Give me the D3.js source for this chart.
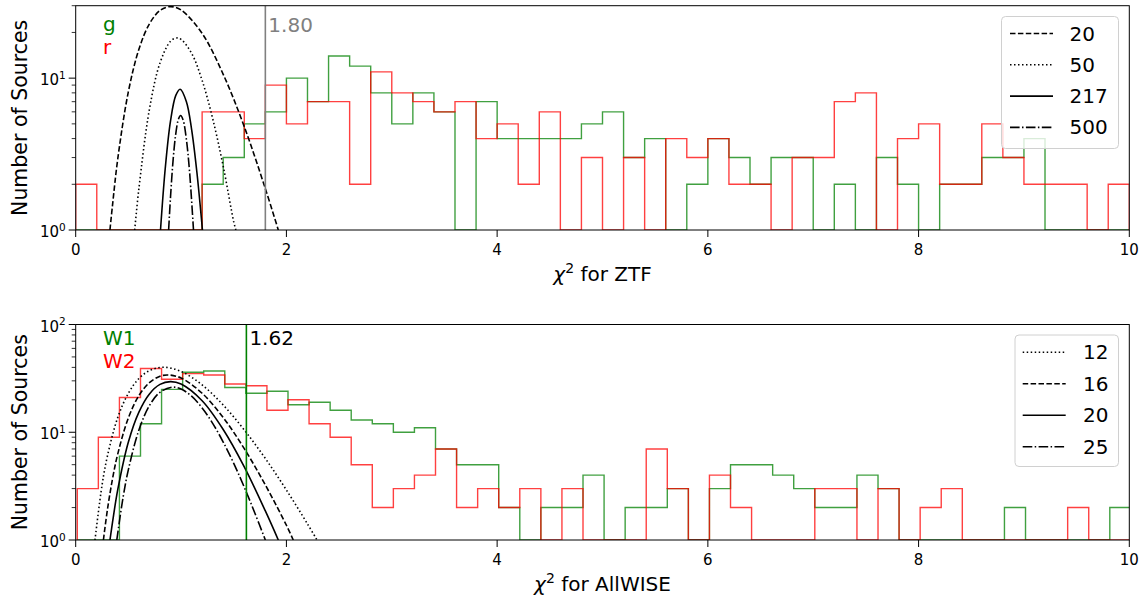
<!DOCTYPE html>
<html>
<head>
<meta charset="utf-8">
<script src="https://cdn.jsdelivr.net/npm/d3@7"></script>
<style>
  body { margin: 0; background: #fff; }
  svg { display: block; font-family: 'DejaVu Sans', sans-serif; }
</style>
</head>
<body>
<div id="chart"></div>
<script>
// ---- ZTF panel: histogram bins of 0.2 starting at 0 ----
const ztfBinStart = 0;
const ztfBinWidth = 0.2;
const ztfCountsG = [0, 0, 0, 0, 0, 0, 2, 3, 5, 6, 10, 7, 14, 12, 8, 5, 8, 6, 0, 7,
  4, 4, 4, 4, 5, 6, 3, 4, 0, 2, 4, 3, 2, 3, 3, 0, 2, 0, 3, 2,
  0, 2, 2, 3, 3, 4, 0, 0, 0, 0];
const ztfCountsR = [2, 0, 0, 0, 0, 0, 6, 6, 4, 9, 5, 7, 7, 2, 11, 8, 7, 6, 7, 4,
  5, 2, 6, 0, 3, 0, 3, 0, 4, 3, 4, 2, 2, 0, 3, 3, 7, 8, 0, 4,
  5, 2, 2, 5, 3, 2, 2, 2, 0, 2];
// reduced chi-square curves: [chi2, sources]
const ztfCurve20 = [[0.325, 1], [0.35, 1.47], [0.4, 2.97], [0.5, 8.15], [0.6, 15.5], [0.7, 22.8],
  [0.8, 27.9], [0.9, 29.6], [1.0, 28.1], [1.2, 19.7], [1.4, 10.6], [1.6, 4.79], [1.8, 1.87], [1.923, 1]];
const ztfCurve50 = [[0.56, 1], [0.6, 1.88], [0.7, 6.25], [0.8, 12.6], [0.9, 17.5], [0.96, 18.4],
  [1.0, 18.0], [1.1, 14.6], [1.2, 9.66], [1.3, 5.42], [1.4, 2.63], [1.5, 1.13], [1.52, 1]];
const ztfCurve217 = [[0.805, 1], [0.85, 2.55], [0.9, 5.23], [0.95, 7.7], [0.991, 8.46],
  [1.05, 7.03], [1.1, 4.6], [1.15, 2.41], [1.203, 1]];
const ztfCurve500 = [[0.882, 1], [0.9, 1.65], [0.925, 2.92], [0.95, 4.31], [0.975, 5.36], [0.996, 5.67],
  [1.02, 5.28], [1.05, 3.98], [1.08, 2.45], [1.118, 1]];
const ztfDofLabels = ['20', '50', '217', '500'];
const ztfBandLabels = ['g', 'r'];
const ztfCut = 1.80;

// ---- AllWISE panel: bins of 0.2 starting at 0.015 ----
const wiseBinStart = 0.015;
const wiseBinWidth = 0.2;
const wiseCountsW1 = [0, 0, 6, 12, 25, 36, 37, 26, 23, 24, 18, 19, 16, 13, 12, 10, 11, 7, 5, 5,
  2, 0, 2, 2, 4, 0, 2, 2, 3, 0, 3, 5, 5, 4, 3, 2, 2, 4, 3, 0,
  0, 0, 0, 0, 2, 0, 0, 0, 0, 2];
const wiseCountsW2 = [3, 9, 21, 39, 31, 35, 34, 28, 27, 16, 20, 12, 9, 5, 2, 3, 4, 7, 2, 3,
  2, 3, 0, 3, 0, 0, 0, 7, 3, 0, 4, 2, 0, 0, 0, 3, 3, 0, 3, 0,
  2, 3, 0, 0, 0, 0, 0, 2, 0, 0];
const wiseCurve12 = [[0.183, 1], [0.25, 3.23], [0.3, 5.95], [0.4, 13.8], [0.5, 23.0], [0.6, 31.5],
  [0.7, 37.3], [0.833, 40.1], [1.0, 36.7], [1.2, 27.5], [1.4, 17.9], [1.6, 10.5], [1.8, 5.71],
  [2.0, 2.91], [2.2, 1.41], [2.29, 1]];
const wiseCurve16 = [[0.263, 1], [0.3, 1.88], [0.35, 3.72], [0.4, 6.34], [0.5, 13.6], [0.6, 21.9],
  [0.7, 28.9], [0.8, 33.1], [0.875, 34], [1.0, 31.9], [1.2, 23.0], [1.4, 13.7], [1.6, 7.04],
  [1.8, 3.24], [2.0, 1.37], [2.065, 1]];
const wiseCurve20 = [[0.325, 1], [0.35, 1.47], [0.4, 2.96], [0.5, 8.12], [0.6, 15.4], [0.7, 22.7],
  [0.8, 27.8], [0.9, 29.5], [1.0, 28.0], [1.2, 19.6], [1.4, 10.6], [1.6, 4.77], [1.8, 1.86], [1.923, 1]];
const wiseCurve25 = [[0.39, 1], [0.45, 2.5], [0.5, 4.5], [0.6, 10.5], [0.7, 17.7], [0.8, 23.5],
  [0.92, 26.2], [1.0, 25.2], [1.1, 21.6], [1.2, 16.8], [1.3, 12.1], [1.4, 8.11], [1.5, 5.14],
  [1.6, 3.09], [1.7, 1.78], [1.8, 1]];
const wiseDofLabels = ['12', '16', '20', '25'];
const wiseBandLabels = ['W1', 'W2'];
const wiseCut = 1.62;

const xTicks = [0, 2, 4, 6, 8, 10];

const DASHED = '5.5,2.4';
const DOTTED = '1.5,2.5';
const DASHDOT = '9.6,2.4,1.5,2.4';

class ChiSquarePanel {
  constructor (svg, opts) {
    this.svg = svg;
    this.opts = opts;
    this.left = 75.7;
    this.right = 1129.3;
    this.top = opts.top;
    this.bottom = opts.bottom;
    this.g = null;
  }

  initScales () {
    this.xScale = d3.scaleLinear().domain([0, 10]).range([this.left, this.right]);
    this.yScale = d3.scaleLog().domain([1, this.opts.yMax]).range([this.bottom, this.top]);
  }

  // y for a count; empty bins sit on the floor of the axis
  yOf (n) {
    return n > 0 ? this.yScale(n) : this.bottom;
  }

  createGroup () {
    this.g = this.svg.append('g');
    this.g.append('clipPath')
      .attr('id', this.opts.id + '-clip')
      .append('rect')
      .attr('x', this.left)
      .attr('y', this.top)
      .attr('width', this.right - this.left)
      .attr('height', this.bottom - this.top);
    this.plot = this.g.append('g').attr('clip-path', 'url(#' + this.opts.id + '-clip)');
  }

  drawHistograms () {
    let line = d3.line()
      .x((d) => this.xScale(d[0]))
      .y((d) => this.yOf(d[1]));

    this.opts.histograms.forEach((h) => {
      let pts = [[this.opts.binStart, 0]];
      h.counts.forEach((c, i) => {
        let x0 = this.opts.binStart + i * this.opts.binWidth;
        pts.push([x0, c], [x0 + this.opts.binWidth, c]);
      });
      pts.push([this.opts.binStart + h.counts.length * this.opts.binWidth, 0]);

      this.plot.append('path')
        .attr('d', line(pts))
        .attr('fill', 'none')
        .attr('stroke', h.color)
        .attr('stroke-opacity', 0.75)
        .attr('stroke-width', 1.4);
    });
  }

  drawCurves () {
    let line = d3.line()
      .x((d) => this.xScale(d[0]))
      .y((d) => this.yScale(d[1]))
      .curve(d3.curveCatmullRom.alpha(0.5));

    this.opts.curves.forEach((c) => {
      this.plot.append('path')
        .attr('d', line(c.points))
        .attr('fill', 'none')
        .attr('stroke', '#000')
        .attr('stroke-width', 1.6)
        .attr('stroke-dasharray', c.dash);
    });
  }

  drawCut () {
    let cx = this.xScale(this.opts.cut);
    this.plot.append('line')
      .attr('x1', cx).attr('x2', cx)
      .attr('y1', this.top).attr('y2', this.bottom)
      .attr('stroke', this.opts.cutColor)
      .attr('stroke-width', 1.6);

    this.g.append('text')
      .attr('x', cx + 3)
      .attr('y', this.top + this.opts.cutTextDy)
      .attr('font-size', 20)
      .attr('fill', this.opts.cutTextColor)
      .text(this.opts.cut.toFixed(2));
  }

  drawBands () {
    let colors = ['#008000', '#ff0000'];
    this.opts.bands.forEach((b, i) => {
      this.g.append('text')
        .attr('x', 103)
        .attr('y', this.top + this.opts.bandDy + i * 23)
        .attr('font-size', 20)
        .attr('fill', colors[i])
        .text(b);
    });
  }

  drawAxes () {
    // frame
    this.g.append('rect')
      .attr('x', this.left)
      .attr('y', this.top)
      .attr('width', this.right - this.left)
      .attr('height', this.bottom - this.top)
      .attr('fill', 'none')
      .attr('stroke', '#000')
      .attr('stroke-width', 1);

    // x ticks
    let xt = this.g.append('g');
    xTicks.forEach((t) => {
      let x = this.xScale(t);
      xt.append('line')
        .attr('x1', x).attr('x2', x)
        .attr('y1', this.bottom).attr('y2', this.bottom + 7)
        .attr('stroke', '#000');
      xt.append('text')
        .attr('x', x)
        .attr('y', this.bottom + 24.5)
        .attr('text-anchor', 'middle')
        .attr('font-size', 15)
        .text(t);
    });

    // y ticks, log decades plus minor ones
    let yt = this.g.append('g');
    let maxExp = Math.floor(Math.log10(this.opts.yMax) + 1e-9);
    for (let e = 0; e <= maxExp; e++) {
      let y = this.yScale(Math.pow(10, e));
      yt.append('line')
        .attr('x1', this.left - 7).attr('x2', this.left)
        .attr('y1', y).attr('y2', y)
        .attr('stroke', '#000');
      let label = yt.append('text')
        .attr('x', this.left - 10)
        .attr('y', y + 7)
        .attr('text-anchor', 'end')
        .attr('font-size', 15);
      label.append('tspan').text('10');
      label.append('tspan')
        .attr('font-size', 10.5)
        .attr('dy', -6.5)
        .text(e);
      for (let m = 2; m <= 9; m++) {
        let v = m * Math.pow(10, e);
        if (v > this.opts.yMax) break;
        let ym = this.yScale(v);
        yt.append('line')
          .attr('x1', this.left - 4).attr('x2', this.left)
          .attr('y1', ym).attr('y2', ym)
          .attr('stroke', '#000')
          .attr('stroke-width', 0.8);
      }
    }

    // axis labels
    let xl = this.g.append('text')
      .attr('x', (this.left + this.right) / 2)
      .attr('y', this.bottom + 51)
      .attr('text-anchor', 'middle')
      .attr('font-size', 20);
    xl.append('tspan').attr('font-style', 'italic').text('χ');
    xl.append('tspan').attr('font-size', 14).attr('dy', -8).text('2');
    xl.append('tspan').attr('dy', 8).text(' for ' + this.opts.xName);

    this.g.append('text')
      .attr('transform', 'translate(27,' + ((this.top + this.bottom) / 2) + ') rotate(-90)')
      .attr('text-anchor', 'middle')
      .attr('font-size', 20.5)
      .text('Number of Sources');
  }

  drawLegend () {
    let L = this.opts.legend;
    let lg = this.g.append('g');
    lg.append('rect')
      .attr('x', L.x).attr('y', L.y)
      .attr('width', L.w).attr('height', L.h)
      .attr('rx', 4)
      .attr('fill', '#fff')
      .attr('fill-opacity', 0.8)
      .attr('stroke', '#d0d0d0');
    this.opts.curves.forEach((c, i) => {
      let y = L.y + L.firstDy + i * L.step;
      lg.append('line')
        .attr('x1', L.x + L.lineDx).attr('x2', L.x + L.lineDx + 43)
        .attr('y1', y).attr('y2', y)
        .attr('stroke', '#000')
        .attr('stroke-width', 1.6)
        .attr('stroke-dasharray', c.dash);
      lg.append('text')
        .attr('x', L.x + L.textDx)
        .attr('y', y + 7)
        .attr('font-size', 20)
        .text(c.label);
    });
  }

  render () {
    this.initScales();
    this.createGroup();
    this.drawHistograms();
    this.drawCurves();
    this.drawCut();
    this.drawBands();
    this.drawAxes();
    this.drawLegend();
  }
}

const svg = d3.select('#chart')
  .append('svg')
  .attr('width', 1147)
  .attr('height', 604);

new ChiSquarePanel(svg, {
  id: 'ztf',
  top: 5.7,
  bottom: 230,
  yMax: 30,
  xName: 'ZTF',
  binStart: ztfBinStart,
  binWidth: ztfBinWidth,
  histograms: [
    { counts: ztfCountsG, color: '#008000' },
    { counts: ztfCountsR, color: '#ff0000' }
  ],
  curves: [
    { points: ztfCurve20, dash: DASHED, label: ztfDofLabels[0] },
    { points: ztfCurve50, dash: DOTTED, label: ztfDofLabels[1] },
    { points: ztfCurve217, dash: null, label: ztfDofLabels[2] },
    { points: ztfCurve500, dash: DASHDOT, label: ztfDofLabels[3] }
  ],
  cut: ztfCut,
  cutColor: '#808080',
  cutTextColor: '#808080',
  cutTextDy: 26.5,
  bands: ztfBandLabels,
  bandDy: 25.5,
  legend: { x: 1001.5, y: 16.5, w: 117, h: 132, firstDy: 17, step: 31.3, lineDx: 8.5, textDx: 68 }
}).render();

new ChiSquarePanel(svg, {
  id: 'wise',
  top: 324.5,
  bottom: 540,
  yMax: 100,
  xName: 'AllWISE',
  binStart: wiseBinStart,
  binWidth: wiseBinWidth,
  histograms: [
    { counts: wiseCountsW1, color: '#008000' },
    { counts: wiseCountsW2, color: '#ff0000' }
  ],
  curves: [
    { points: wiseCurve12, dash: DOTTED, label: wiseDofLabels[0] },
    { points: wiseCurve16, dash: DASHED, label: wiseDofLabels[1] },
    { points: wiseCurve20, dash: null, label: wiseDofLabels[2] },
    { points: wiseCurve25, dash: DASHDOT, label: wiseDofLabels[3] }
  ],
  cut: wiseCut,
  cutColor: '#008000',
  cutTextColor: '#000',
  cutTextDy: 20.5,
  bands: wiseBandLabels,
  bandDy: 20.5,
  legend: { x: 1015, y: 335, w: 103.5, h: 131.5, firstDy: 17.3, step: 31.5, lineDx: 7.7, textDx: 68 }
}).render();
</script>
</body>
</html>
